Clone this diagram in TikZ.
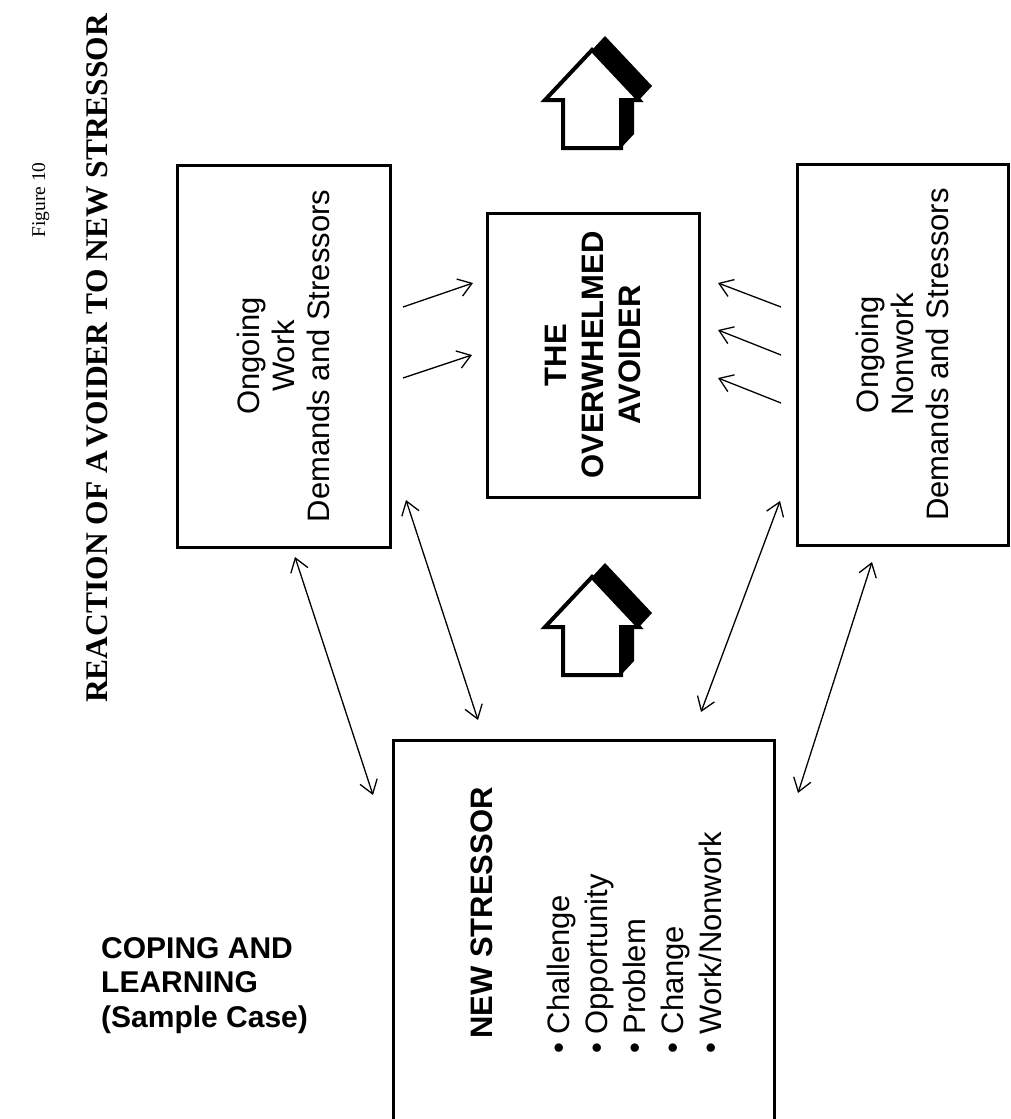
\documentclass[tikz,border=0pt]{standalone}
\usepackage{fontspec}
\setmainfont{Liberation Serif}
\newfontfamily\arialf{Liberation Sans}
\usetikzlibrary{arrows.meta}
\tikzset{
  box/.style={draw, line width=3pt, inner sep=0pt},
  boxtext/.style={font=\arialf\fontsize{31}{35}\selectfont, align=center},
  boxbold/.style={font=\arialf\bfseries\fontsize{31}{37}\selectfont, align=center},
  bullettext/.style={rotate=90, anchor=base west, inner sep=0pt, font=\arialf\fontsize{31}{37}\selectfont},
  barb/.tip={Straight Barb[length=13pt,width=18pt]},
  onearrow/.style={line width=1.3pt, -barb},
  twoarrow/.style={line width=1.3pt, barb-barb},
  blockarr/.pic={
    \fill[black] (0,0) -- (13,-14) -- (60,36) -- (47,50) -- (42,50) -- (42,84) -- (29,98)
      -- (-29,98) -- (-29,50) -- (-47,50) -- cycle;
    \draw[line width=4pt, fill=white, line join=miter]
      (0,0) -- (47,50) -- (29,50) -- (29,98) -- (-29,98) -- (-29,50) -- (-47,50) -- cycle;
  }
}
\begin{document}
\begin{tikzpicture}[x=1pt,y=-1pt]
\useasboundingbox (0,0) rectangle (1011,1119);
\fill[white] (0,0) rectangle (1011,1119);

% title
\node[rotate=90, anchor=base west, inner sep=0pt, font=\bfseries\fontsize{31.5}{38}\selectfont]
  (title) at (107,703) {REACTION OF A\kern0.1em VOIDER TO NEW STRESSOR};
\node[rotate=90, anchor=base, inner sep=0pt, font=\fontsize{19.5}{23}\selectfont]
  (fig) at (45,200) {Figure 10};

% boxes
\node[box, boxtext, rotate=90, minimum width=382pt, minimum height=213pt]
  (work) at (283.5,356) {Ongoing\\Work\\Demands and Stressors};
\node[box, boxbold, rotate=90, minimum width=284pt, minimum height=212pt]
  (avoider) at (593,355) {THE\\OVERWHELMED\\AVOIDER};
\node[box, boxtext, rotate=90, minimum width=381pt, minimum height=211pt]
  (nonwork) at (902.5,354.5) {Ongoing\\Nonwork\\Demands and Stressors};
\node[box, minimum width=381pt, minimum height=400pt] (stressor) at (583.5,940) {};

% new stressor content
\node[rotate=90, anchor=base west, inner sep=0pt, font=\arialf\bfseries\fontsize{31}{37}\selectfont]
  (ns) at (492,1039) {NEW STRESSOR};
\node[bullettext] (b1) at (569,1054) {• Challenge};
\node[bullettext] (b2) at (607,1054) {• Opportunity};
\node[bullettext] (b3) at (645,1054) {• Problem};
\node[bullettext] (b4) at (683,1054) {• Change};
\node[bullettext] (b5) at (721,1054) {• Work/Nonwork};

% coping label
\node[anchor=north west, inner sep=0pt, align=left, font=\arialf\bfseries\fontsize{30}{34.5}\selectfont]
  (coping) at (101,937) {COPING AND\\LEARNING\\(Sample Case)};

% block arrows
\pic at (592,50) {blockarr};
\pic at (592,577) {blockarr};

% small arrows into the avoider
\coordinate (l1s) at (403,307); \coordinate (l1e) at (473,283);
\coordinate (l2s) at (403,378); \coordinate (l2e) at (472,355);
\coordinate (r1s) at (781,307); \coordinate (r1e) at (718,283);
\coordinate (r2s) at (781,355); \coordinate (r2e) at (718,330);
\coordinate (r3s) at (781,403); \coordinate (r3e) at (718,378);
\draw[onearrow] (l1s) -- (l1e);
\draw[onearrow] (l2s) -- (l2e);
\draw[onearrow] (r1s) -- (r1e);
\draw[onearrow] (r2s) -- (r2e);
\draw[onearrow] (r3s) -- (r3e);

% double arrows
\coordinate (d1a) at (295,557); \coordinate (d1b) at (373,795);
\coordinate (d2a) at (406,500); \coordinate (d2b) at (478,720);
\coordinate (d3a) at (780,501); \coordinate (d3b) at (701,712);
\coordinate (d4a) at (872,562); \coordinate (d4b) at (798,793);
\draw[twoarrow] (d1a) -- (d1b);
\draw[twoarrow] (d2a) -- (d2b);
\draw[twoarrow] (d3a) -- (d3b);
\draw[twoarrow] (d4a) -- (d4b);
\end{tikzpicture}
\end{document}
